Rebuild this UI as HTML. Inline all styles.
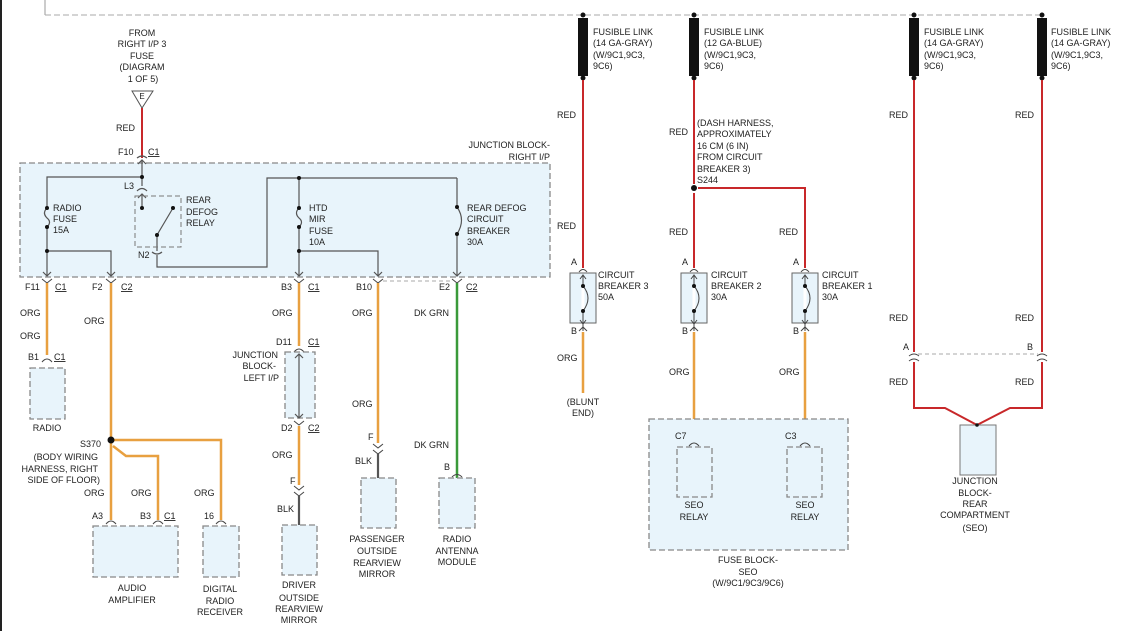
<!DOCTYPE html>
<html><head><meta charset="utf-8"><style>
html,body{margin:0;padding:0;background:#fff}
svg{display:block}
text{font-family:"Liberation Sans",sans-serif;font-size:9px;fill:#222}
.c{text-anchor:middle}.r{text-anchor:end}
.blk{fill:#e8f4fb;stroke:#888;stroke-width:1.3;stroke-dasharray:6,3}
.w{fill:none;stroke:#555;stroke-width:1.2}
.red{fill:none;stroke:#c8282a;stroke-width:2}
.org{fill:none;stroke:#e8a040;stroke-width:2.5}
.grn{fill:none;stroke:#3a9a3a;stroke-width:2.5}
.gry{fill:none;stroke:#555;stroke-width:2.2}
.cn{fill:none;stroke:#444;stroke-width:1}
</style></head><body>
<svg width="1144" height="631" viewBox="0 0 1144 631" xmlns="http://www.w3.org/2000/svg">
<rect x="0" y="0" width="2" height="631" fill="#222"/>
<line x1="45" y1="0" x2="45" y2="15" stroke="#999"/>
<line x1="45" y1="15" x2="1044" y2="15" stroke="#aaa" stroke-dasharray="6,3"/>

<!-- fusible links -->
<g>
<circle cx="583" cy="15" r="2.5" fill="#111"/><rect x="578" y="18" width="10" height="58" fill="#111"/><circle cx="583" cy="78" r="2.5" fill="#111"/>
<circle cx="694" cy="15" r="2.5" fill="#111"/><rect x="689" y="18" width="10" height="58" fill="#111"/><circle cx="694" cy="78" r="2.5" fill="#111"/>
<circle cx="914" cy="15" r="2.5" fill="#111"/><rect x="909" y="18" width="10" height="58" fill="#111"/><circle cx="914" cy="78" r="2.5" fill="#111"/>
<circle cx="1042" cy="15" r="2.5" fill="#111"/><rect x="1037" y="18" width="10" height="58" fill="#111"/><circle cx="1042" cy="78" r="2.5" fill="#111"/>
</g>
<text x="593" y="35">FUSIBLE LINK</text><text x="593" y="46">(14 GA-GRAY)</text><text x="593" y="58">(W/9C1,9C3,</text><text x="593" y="69">9C6)</text>
<text x="704" y="35">FUSIBLE LINK</text><text x="704" y="46">(12 GA-BLUE)</text><text x="704" y="58">(W/9C1,9C3,</text><text x="704" y="69">9C6)</text>
<text x="924" y="35">FUSIBLE LINK</text><text x="924" y="46">(14 GA-GRAY)</text><text x="924" y="58">(W/9C1,9C3,</text><text x="924" y="69">9C6)</text>
<text x="1051" y="35">FUSIBLE LINK</text><text x="1051" y="46">(14 GA-GRAY)</text><text x="1051" y="58">(W/9C1,9C3,</text><text x="1051" y="69">9C6)</text>

<!-- red wires right -->
<path class="red" d="M583 80V268"/>
<path class="red" d="M694 80V184M694 193V268"/>
<circle cx="694" cy="188" r="3" fill="#111"/>
<path class="red" d="M698 188H805V268"/>
<path class="red" d="M914 80V352M1042 80V352"/>
<path class="red" d="M914 362V408H945L977 425L1010 408H1042V362"/>
<line x1="918" y1="354" x2="1038" y2="354" stroke="#aaa" stroke-dasharray="4,3"/>
<path class="cn" d="M909 356Q914 352 919 356M909 361Q914 357 919 361M1037 356Q1042 352 1047 356M1037 361Q1042 357 1047 361"/>
<text x="903" y="350">A</text><text x="1027" y="350">B</text>
<rect x="960" y="425" width="36" height="50" fill="#e8f4fb" stroke="#777"/>
<circle cx="977" cy="425" r="1.8" fill="#111"/>
<text class="c" x="975" y="484">JUNCTION</text><text class="c" x="975" y="496">BLOCK-</text><text class="c" x="975" y="507">REAR</text><text class="c" x="975" y="518">COMPARTMENT</text><text class="c" x="975" y="531">(SEO)</text>

<text x="557" y="118">RED</text><text x="557" y="229">RED</text><text x="669" y="135">RED</text><text x="669" y="235">RED</text><text x="779" y="235">RED</text>
<text x="889" y="118">RED</text><text x="1015" y="118">RED</text><text x="889" y="321">RED</text><text x="1015" y="321">RED</text><text x="889" y="385">RED</text><text x="1015" y="385">RED</text>
<text x="697" y="126">(DASH HARNESS,</text><text x="697" y="137">APPROXIMATELY</text><text x="697" y="149">16 CM (6 IN)</text><text x="697" y="160">FROM CIRCUIT</text><text x="697" y="172">BREAKER 3)</text><text x="697" y="183">S244</text>

<!-- circuit breakers -->
<g>
<rect x="570" y="273" width="26" height="50" fill="#e8f4fb" stroke="#666"/>
<rect x="681" y="273" width="26" height="50" fill="#e8f4fb" stroke="#666"/>
<rect x="792" y="273" width="26" height="50" fill="#e8f4fb" stroke="#666"/>
<path class="cn" d="M579 272Q583 267 587 272M690 272Q694 267 698 272M801 272Q805 267 809 272"/>
<path class="cn" d="M583 276V331M580 279L583 275L586 279M580 320L583 324L586 320M694 276V331M691 279L694 275L697 279M691 320L694 324L697 320M805 276V331M802 279L805 275L808 279M802 320L805 324L808 320"/>
<path fill="none" stroke="#fff" stroke-width="3" d="M583 288V309M694 288V309M805 288V309"/>
<path class="cn" d="M583 286Q593 298 583 311M694 286Q704 298 694 311M805 286Q815 298 805 311"/>
<circle cx="583" cy="286" r="2" fill="#111"/><circle cx="583" cy="311" r="2" fill="#111"/>
<circle cx="694" cy="286" r="2" fill="#111"/><circle cx="694" cy="311" r="2" fill="#111"/>
<circle cx="805" cy="286" r="2" fill="#111"/><circle cx="805" cy="311" r="2" fill="#111"/>
<path class="cn" d="M579 331L583 327L587 331M690 331L694 327L698 331M801 331L805 327L809 331"/>
</g>
<text x="571" y="265">A</text><text x="682" y="265">A</text><text x="793" y="265">A</text>
<text x="571" y="334">B</text><text x="682" y="334">B</text><text x="793" y="334">B</text>
<text x="598" y="278">CIRCUIT</text><text x="598" y="289">BREAKER 3</text><text x="598" y="300">50A</text>
<text x="711" y="278">CIRCUIT</text><text x="711" y="289">BREAKER 2</text><text x="711" y="300">30A</text>
<text x="822" y="278">CIRCUIT</text><text x="822" y="289">BREAKER 1</text><text x="822" y="300">30A</text>
<path class="org" d="M583 332V393M694 332V440M805 332V440"/>
<text x="557" y="361">ORG</text><text x="669" y="375">ORG</text><text x="779" y="375">ORG</text>
<text class="c" x="583" y="405">(BLUNT</text><text class="c" x="583" y="416">END)</text>

<rect class="blk" x="649" y="419" width="199" height="131"/>
<rect class="blk" x="677" y="447" width="35" height="50"/>
<rect class="blk" x="787" y="447" width="35" height="50"/>
<path class="cn" d="M689 446Q694 440 699 446M800 446Q805 440 810 446"/>
<text x="675" y="439">C7</text><text x="785" y="439">C3</text>
<text class="c" x="694" y="508">SEO</text><text class="c" x="694" y="520">RELAY</text>
<text class="c" x="805" y="508">SEO</text><text class="c" x="805" y="520">RELAY</text>
<text class="c" x="748" y="563">FUSE BLOCK-</text><text class="c" x="748" y="575">SEO</text><text class="c" x="748" y="586">(W/9C1/9C3/9C6)</text>

<!-- left top -->
<text class="c" x="142" y="36">FROM</text><text class="c" x="142" y="47">RIGHT I/P 3</text><text class="c" x="142" y="59">FUSE</text><text class="c" x="142" y="70">(DIAGRAM</text><text class="c" x="143" y="82">1 OF 5)</text>
<path d="M132 91H153L142 108Z" fill="#fff" stroke="#555"/>
<text class="c" x="142" y="99" style="font-size:8px">E</text>
<path class="red" d="M142 108V158"/>
<text x="116" y="131">RED</text>
<text x="118" y="155">F10</text><text x="148" y="155" text-decoration="underline">C1</text>

<rect class="blk" x="20" y="163" width="530" height="114"/>
<text class="r" x="550" y="148">JUNCTION BLOCK-</text><text class="r" x="550" y="160">RIGHT I/P</text>
<g class="w">
<path d="M142 160V186M138 164L142 160L146 164"/>
<path d="M137 158Q142 154 147 158"/>
<path d="M142 177H47V276M43 272L47 276L51 272"/>
<path d="M47 251H111V276M107 272L111 276L115 272"/>
<path d="M47 208Q42 213 47 218Q52 222 47 227"/>
<path d="M137 191Q142 186 147 191M142 194V208M138 198L142 194L146 198"/>
<path d="M173 208L157 235V251"/>
<path d="M152 252Q157 256 162 252M157 255V267H267V178H457"/>
<path d="M299 178V276M295 272L299 276L303 272"/>
<path d="M299 251H378V276M374 272L378 276L382 272"/>
<path d="M457 178V207M457 234V276M453 272L457 276L461 272"/>
</g>
<path fill="#e8f4fb" d="M296 209H302V226H296Z"/>
<path class="w" d="M299 208Q294 213 299 218Q304 222 299 227"/>
<path class="w" d="M457 207Q466 220 457 234"/>
<path fill="#e8f4fb" d="M44 209H50V226H44Z"/>
<path class="w" d="M47 208Q42 213 47 218Q52 222 47 227"/>
<rect x="135" y="196" width="46" height="51" fill="none" stroke="#777" stroke-dasharray="5,3"/>
<g fill="#111">
<circle cx="142" cy="177" r="2"/><circle cx="47" cy="208" r="2"/><circle cx="47" cy="227" r="2"/><circle cx="47" cy="251" r="2"/>
<circle cx="142" cy="208" r="2"/><circle cx="173" cy="208" r="2"/><circle cx="157" cy="235" r="2"/>
<circle cx="299" cy="178" r="2"/><circle cx="299" cy="208" r="2"/><circle cx="299" cy="227" r="2"/><circle cx="299" cy="251" r="2"/>
<circle cx="457" cy="207" r="2"/><circle cx="457" cy="234" r="2"/>
</g>
<text x="124" y="189">L3</text><text x="138" y="258">N2</text>
<text x="53" y="211">RADIO</text><text x="53" y="222">FUSE</text><text x="53" y="233">15A</text>
<text x="186" y="203">REAR</text><text x="186" y="215">DEFOG</text><text x="186" y="226">RELAY</text>
<text x="309" y="211">HTD</text><text x="309" y="222">MIR</text><text x="309" y="234">FUSE</text><text x="309" y="245">10A</text>
<text x="467" y="211">REAR DEFOG</text><text x="467" y="222">CIRCUIT</text><text x="467" y="234">BREAKER</text><text x="467" y="245">30A</text>

<!-- below block connectors -->
<path class="cn" d="M42 279L47 283L52 279M106 279L111 283L116 279M294 279L299 283L304 279M373 279L378 283L383 279M452 279L457 283L462 279"/>
<line x1="383" y1="281" x2="452" y2="281" stroke="#aaa" stroke-dasharray="4,3"/>
<text x="25" y="290">F11</text><text x="55" y="290" text-decoration="underline">C1</text>
<text x="92" y="290">F2</text><text x="121" y="290" text-decoration="underline">C2</text>
<text x="281" y="290">B3</text><text x="308" y="290" text-decoration="underline">C1</text>
<text x="356" y="290">B10</text><text x="439" y="290">E2</text><text x="466" y="290" text-decoration="underline">C2</text>

<!-- radio -->
<path class="org" d="M47 283V355"/>
<text x="20" y="316">ORG</text><text x="20" y="339">ORG</text>
<path class="cn" d="M42 362Q47 356 52 362"/>
<text x="28" y="360">B1</text><text x="54" y="360" text-decoration="underline">C1</text>
<rect class="blk" x="30" y="368" width="35" height="51"/>
<text class="c" x="47" y="431">RADIO</text>

<!-- S370 -->
<path class="org" d="M111 283V520M111 440H221V520M113 446L126 456H158V520"/>
<circle cx="111" cy="440" r="3.5" fill="#111"/>
<text x="84" y="324">ORG</text>
<text class="r" x="101" y="447">S370</text>
<text class="r" x="98" y="460">(BODY WIRING</text><text class="r" x="98" y="472">HARNESS, RIGHT</text><text class="r" x="100" y="483">SIDE OF FLOOR)</text>
<text x="84" y="496">ORG</text><text x="131" y="496">ORG</text><text x="194" y="496">ORG</text>
<text x="92" y="519">A3</text><text x="140" y="519">B3</text><text x="164" y="519" text-decoration="underline">C1</text><text x="204" y="519">16</text>
<path class="cn" d="M106 524Q111 518 116 524M153 524Q158 518 163 524M216 524Q221 518 226 524"/>
<rect class="blk" x="93" y="526" width="85" height="51"/>
<rect class="blk" x="203" y="526" width="36" height="51"/>
<text class="c" x="132" y="591">AUDIO</text><text class="c" x="132" y="603">AMPLIFIER</text>
<text class="c" x="220" y="592">DIGITAL</text><text class="c" x="220" y="604">RADIO</text><text class="c" x="220" y="615">RECEIVER</text>

<!-- driver mirror -->
<path class="org" d="M299 283V346"/>
<text x="272" y="316">ORG</text>
<text x="276" y="345">D11</text><text x="308" y="345" text-decoration="underline">C1</text>
<path class="cn" d="M294 352Q299 346 304 352"/>
<rect class="blk" x="285" y="352" width="30" height="66"/>
<path class="w" d="M299 354V418M295 358L299 354L303 358M295 414L299 418L303 414"/>
<text class="r" x="278" y="358">JUNCTION</text><text class="r" x="276" y="369">BLOCK-</text><text class="r" x="279" y="381">LEFT I/P</text>
<text x="281" y="431">D2</text><text x="308" y="431" text-decoration="underline">C2</text>
<path class="cn" d="M294 421L299 425L304 421"/>
<path class="org" d="M299 426V485"/>
<text x="272" y="458">ORG</text>
<text x="290" y="484">F</text>
<path class="cn" d="M294 486L299 490L304 486M294 492L299 496L304 492"/>
<path class="gry" d="M299 496V525"/>
<text x="277" y="512">BLK</text>
<rect class="blk" x="282" y="525" width="35" height="50"/>
<text class="c" x="299" y="588">DRIVER</text><text class="c" x="299" y="601">OUTSIDE</text><text class="c" x="299" y="612">REARVIEW</text><text class="c" x="299" y="623">MIRROR</text>

<!-- passenger mirror -->
<path class="org" d="M378 283V443"/>
<text x="352" y="316">ORG</text><text x="352" y="407">ORG</text>
<text x="368" y="440">F</text>
<path class="cn" d="M373 444L378 448L383 444M373 450L378 454L383 450"/>
<path class="gry" d="M378 454V478"/>
<text x="355" y="464">BLK</text>
<rect class="blk" x="361" y="478" width="35" height="50"/>
<text class="c" x="377" y="542">PASSENGER</text><text class="c" x="377" y="554">OUTSIDE</text><text class="c" x="377" y="566">REARVIEW</text><text class="c" x="377" y="577">MIRROR</text>

<!-- antenna -->
<path class="grn" d="M457 283V478"/>
<text x="414" y="316">DK GRN</text><text x="414" y="448">DK GRN</text>
<text x="444" y="470">B</text>
<path class="cn" d="M452 477Q457 472 462 477"/>
<rect class="blk" x="439" y="478" width="36" height="50"/>
<text class="c" x="457" y="542">RADIO</text><text class="c" x="457" y="554">ANTENNA</text><text class="c" x="457" y="565">MODULE</text>
</svg>
</body></html>
